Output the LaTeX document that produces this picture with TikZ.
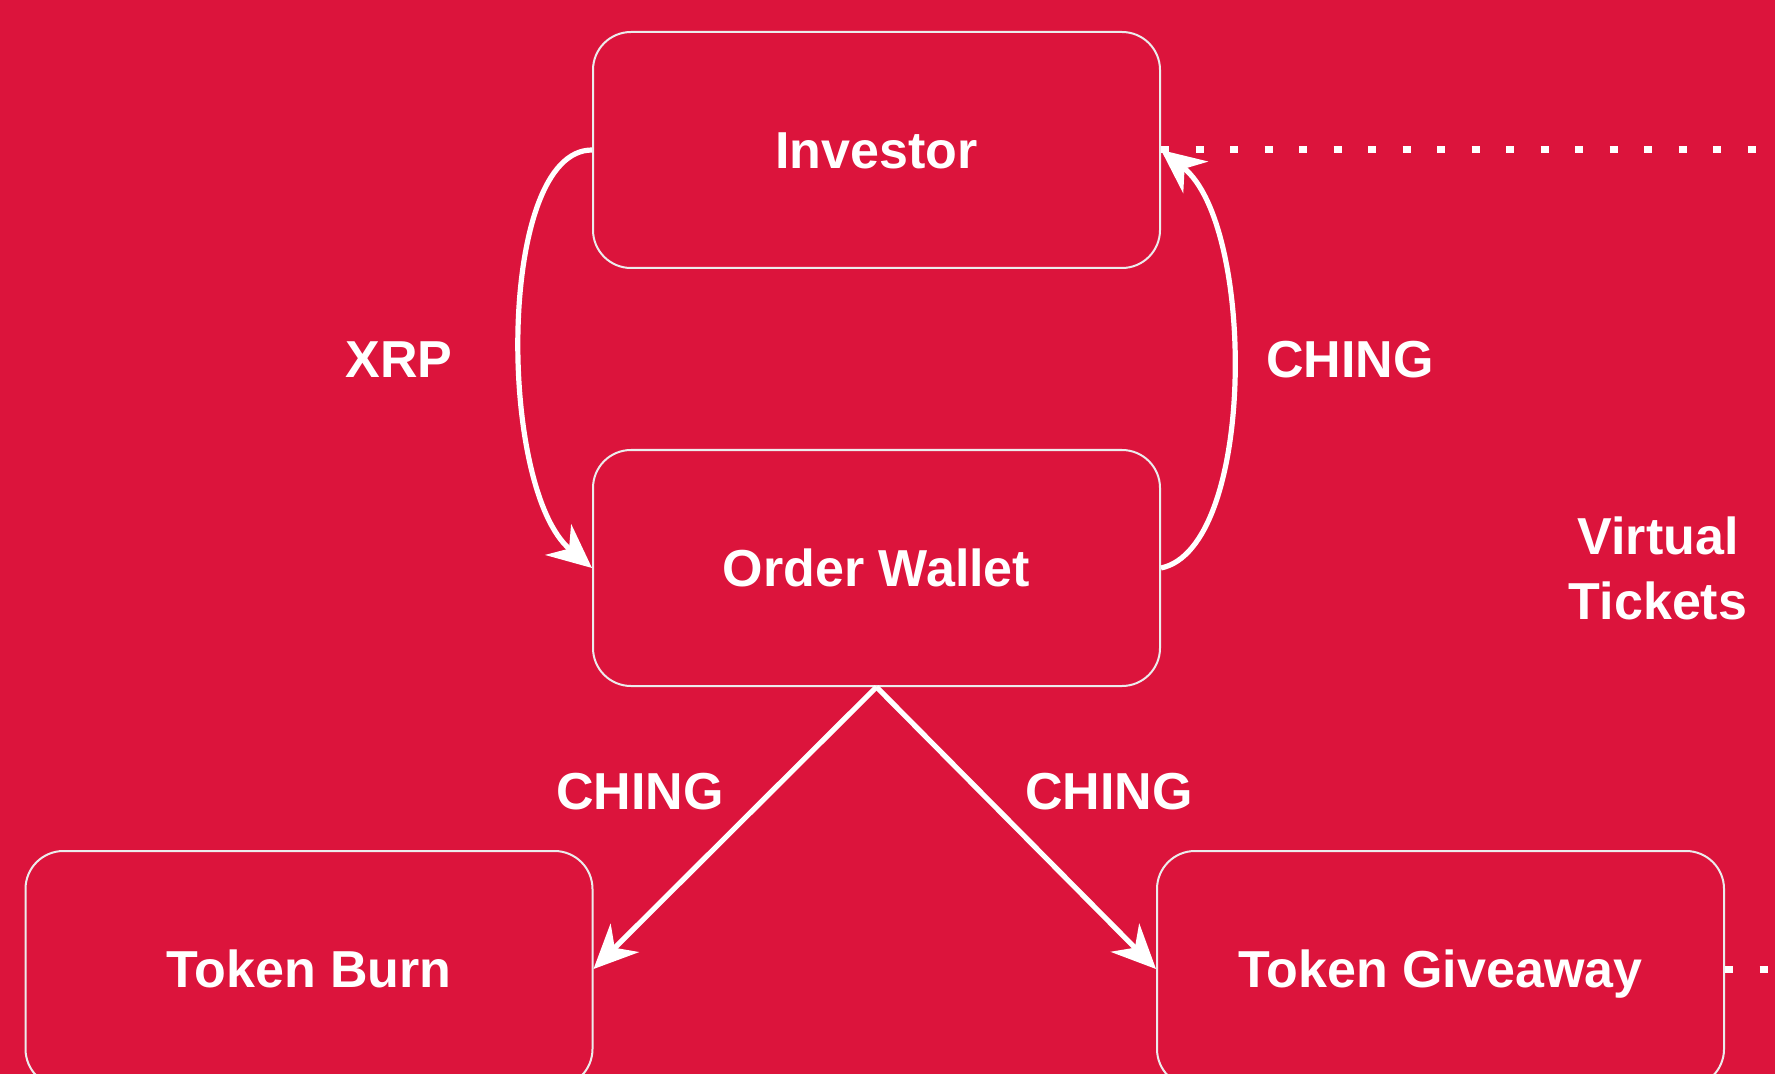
\documentclass[tikz,border=0pt]{standalone}
\usepackage{fontspec}
\setmainfont{Liberation Sans}
\usetikzlibrary{arrows.meta}
\definecolor{bg}{RGB}{220,20,60}
\definecolor{edge}{RGB}{236,236,236}
\begin{document}
\begin{tikzpicture}[x=0.5pt, y=-0.5pt,
  txt/.style={text=white, inner sep=0pt, font=\fontsize{26}{32.5}\selectfont\bfseries},
  lbl/.style={txt, text height=18.7pt, text depth=0pt},
  box/.style={lbl, draw=edge, line width=1pt, rounded corners=19pt,
              minimum width=283.5pt, minimum height=118pt},
  flow/.style={white, line width=2.6pt,
               -{Stealth[length=22pt, width=20pt, inset=7pt]}},
  dotline/.style={white, line width=3.5pt, dash pattern=on 4pt off 13.25pt}]
\useasboundingbox (0,0) rectangle (1775,1074);
\clip (0,0) rectangle (1775,1074);
\fill[bg] (0,0) rectangle (1775,1074);

\node[box] (inv) at (876.5,150) {Investor};
\node[box] (ow)  at (876.5,568) {Order Wallet};
\node[box] (tb)  at (309,969) {Token Burn};
\node[box] (tg)  at (1440.5,969) {Token Giveaway};

\coordinate (offR) at (1800,0);
\draw[dotline] (inv.east) -- (inv.east -| offR);
\draw[dotline] (tg.east) -- (tg.east -| offR);

\draw[flow] (inv.west) .. controls +(-95,0) and +(-95,-80) .. (ow.west);
\draw[flow] (ow.east) .. controls +(95,-20) and +(95,75) .. (inv.east);
\draw[flow] (ow.south) -- (tb.east);
\draw[flow] (ow.south) -- (tg.west);

\node[lbl] (xrp)    at (399,359)  {XRP};
\node[lbl] (chingR) at (1350,359) {CHING};
\node[lbl] (chingL) at (640,791)  {CHING};
\node[lbl] (chingM) at (1109,791) {CHING};
\node[txt, align=center] (vt) at (1658,568) {Virtual\\Tickets};
\end{tikzpicture}
\end{document}
